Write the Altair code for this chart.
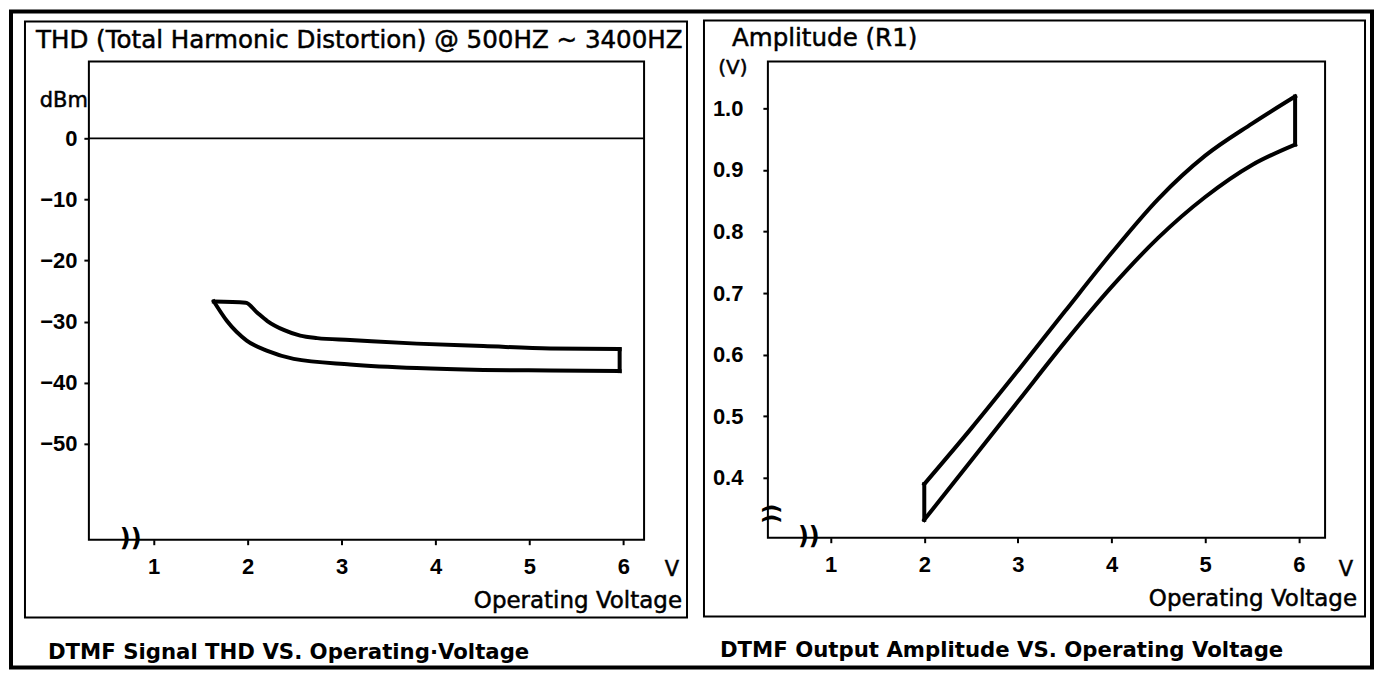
import altair as alt
import pandas as pd

FONT = "DejaVu Sans"
TICK_FONT = "Liberation Sans"

# ---------------- data ----------------
# Left panel: THD band outline (operating voltage V, THD dBm)
thd_upper_v = [1.64, 1.98, 2.10, 2.21, 2.39, 2.56, 2.74, 3.09, 3.80, 4.51, 5.22, 5.96]
thd_upper_db = [-26.7, -26.9, -28.5, -29.9, -31.4, -32.3, -32.7, -33.0, -33.6, -34.0, -34.4, -34.5]
thd_lower_v = [1.64, 1.78, 1.99, 2.21, 2.49, 3.09, 3.80, 4.51, 5.22, 5.96]
thd_lower_db = [-26.7, -29.9, -33.1, -34.8, -36.1, -37.0, -37.6, -37.9, -38.0, -38.1]
thd_edge_v = [5.96]
thd_edge_top = [-34.5]
thd_edge_bottom = [-38.1]

# Right panel: output amplitude band outline (operating voltage V, amplitude V)
amp_upper_v = [2.0, 2.5, 3.0, 3.5, 4.0, 4.5, 5.0, 5.5, 5.96]
amp_upper = [0.390, 0.480, 0.574, 0.670, 0.765, 0.853, 0.923, 0.975, 1.019]
amp_lower_v = [2.0, 2.5, 3.0, 3.5, 4.0, 4.5, 5.0, 5.5, 5.96]
amp_lower = [0.332, 0.428, 0.524, 0.620, 0.710, 0.790, 0.856, 0.908, 0.941]
amp_edge_v = [2.0, 5.96]
amp_edge_bottom = [0.332, 0.941]
amp_edge_top = [0.390, 1.019]

x_ticks = [1, 2, 3, 4, 5, 6]
thd_y_ticks = [0, -10, -20, -30, -40, -50]
amp_y_ticks = [0.4, 0.5, 0.6, 0.7, 0.8, 0.9, 1.0]
zero_line = [0]

left_title = "THD (Total Harmonic Distortion) @ 500HZ ~ 3400HZ"
right_title = "Amplitude (R1)"
left_unit = "dBm"
right_unit = "(V)"
x_unit = "V"
x_name = "Operating Voltage"
left_caption = "DTMF Signal THD VS. Operating\u00b7Voltage"
right_caption = "DTMF Output Amplitude VS. Operating Voltage"
axis_break = "))"

# ---------------- helpers ----------------
one = pd.DataFrame({"k": [0]})


def text(s, x, y, size, align="left", weight="normal", angle=0, font=FONT, sw=0.5):
    return alt.Chart(one).mark_text(
        text=s, font=font, fontSize=size, fontWeight=weight, align=align,
        baseline="middle", color="black", stroke="black", strokeWidth=sw, angle=angle
    ).encode(x=alt.value(x), y=alt.value(y))


def frame(x1, x2, y1, y2, w):
    return alt.Chart(one).mark_rect(
        fill="transparent", stroke="black", strokeWidth=w
    ).encode(x=alt.value(x1), x2=alt.value(x2), y=alt.value(y1), y2=alt.value(y2))


def x_axis():
    return alt.Axis(values=x_ticks, format="d", domain=False, grid=False,
                    ticks=True, tickSize=5, tickWidth=2, tickColor="black",
                    labelFont=TICK_FONT, labelFontSize=22, labelFontWeight="bold",
                    labelColor="black", labelPadding=12, labelOverlap=False, title=None)


def y_axis(values, fmt, pad):
    return alt.Axis(values=values, format=fmt, domain=False, grid=False,
                    ticks=True, tickSize=5, tickWidth=2, tickColor="black",
                    labelFont=TICK_FONT, labelFontSize=22, labelFontWeight="bold",
                    labelColor="black", labelPadding=pad, labelOverlap=False, title=None)


def band(uv, uy, lv, ly_):
    return pd.concat([
        pd.DataFrame({"v": uv, "y": uy, "curve": "upper"}),
        pd.DataFrame({"v": lv, "y": ly_, "curve": "lower"}),
    ], ignore_index=True)


# ---------------- left panel ----------------
LW, LH = 556, 479
lxs = alt.Scale(domain=[0.31, 6.22], nice=False, zero=False)
lys = alt.Scale(domain=[-65.7, 12.6], nice=False, zero=False)
lxa = x_axis()
lya = y_axis(thd_y_ticks, "d", 7)

thd_df = band(thd_upper_v, thd_upper_db, thd_lower_v, thd_lower_db)
thd_edges = pd.DataFrame({"v": thd_edge_v, "y": thd_edge_bottom, "y2": thd_edge_top})

l_curves = alt.Chart(thd_df).mark_line(
    color="black", strokeWidth=4, interpolate="monotone", strokeCap="square"
).encode(
    x=alt.X("v:Q", scale=lxs, axis=lxa),
    y=alt.Y("y:Q", scale=lys, axis=lya),
    detail="curve:N",
)
l_edges = alt.Chart(thd_edges).mark_rule(color="black", strokeWidth=4, strokeCap="square").encode(
    x=alt.X("v:Q", scale=lxs, axis=lxa),
    y=alt.Y("y:Q", scale=lys, axis=lya),
    y2="y2:Q",
)
l_zero = alt.Chart(pd.DataFrame({"y": zero_line})).mark_rule(color="black", strokeWidth=2).encode(
    y=alt.Y("y:Q", scale=lys, axis=lya),
)

left = alt.layer(
    frame(-78, 1285, -50, 607, 4),
    frame(-64, 599, -40, 557, 2),
    l_zero, l_curves, l_edges,
    text(left_title, -53, -20, 24.6),
    text(left_unit, -1, 40, 21, align="right"),
    text(axis_break, 42, 478, 24, align="center", weight="bold", sw=0),
    text(x_unit, 584, 509, 21, align="center"),
    text(x_name, 594, 540, 23, align="right"),
    text(left_caption, -41, 592, 21.3, weight="bold", sw=0),
).properties(width=LW, height=LH)

# ---------------- right panel ----------------
RW, RH = 558, 477
rxs = alt.Scale(domain=[0.33, 6.28], nice=False, zero=False)
rys = alt.Scale(domain=[0.303, 1.076], nice=False, zero=False)
rxa = x_axis()
rya = y_axis(amp_y_ticks, ".1f", 20)

amp_df = band(amp_upper_v, amp_upper, amp_lower_v, amp_lower)
amp_edges = pd.DataFrame({"v": amp_edge_v, "y": amp_edge_bottom, "y2": amp_edge_top})

r_curves = alt.Chart(amp_df).mark_line(
    color="black", strokeWidth=4, interpolate="monotone", strokeCap="square"
).encode(
    x=alt.X("v:Q", scale=rxs, axis=rxa),
    y=alt.Y("y:Q", scale=rys, axis=rya),
    detail="curve:N",
)
r_edges = alt.Chart(amp_edges).mark_rule(color="black", strokeWidth=4, strokeCap="square").encode(
    x=alt.X("v:Q", scale=rxs, axis=rxa),
    y=alt.Y("y:Q", scale=rys, axis=rya),
    y2="y2:Q",
)

right = alt.layer(
    frame(-64, 598, -41, 556, 2),
    r_curves, r_edges,
    text(right_title, -36, -22, 24.6),
    text(right_unit, -35, 7, 20, align="center"),
    text(axis_break, 41, 476, 24, align="center", weight="bold", sw=0),
    text(axis_break, 3, 453, 22, align="center", weight="bold", angle=270, sw=0),
    text(x_unit, 579, 509, 21, align="center"),
    text(x_name, 590, 538, 23, align="right"),
    text(right_caption, -48, 590, 21.3, weight="bold", sw=0),
).properties(width=RW, height=RH)

chart = alt.hconcat(left, right, spacing=124, bounds="flush").configure_view(
    stroke="black", strokeWidth=2
).properties(padding=0, background="white")

chart.save("out.html", embed_options={"renderer": "svg", "actions": False})
